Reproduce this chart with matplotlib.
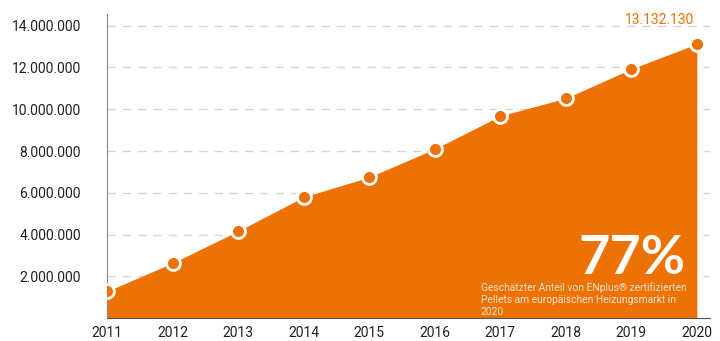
import matplotlib.pyplot as plt
import numpy as np

years = [2011, 2012, 2013, 2014, 2015, 2016, 2017, 2018, 2019, 2020]
tonnes = [1290000, 2640000, 4170000, 5800000, 6750000, 8100000, 9680000, 10530000, 11930000, 13132130]
ytick_vals = [2000000, 4000000, 6000000, 8000000, 10000000, 12000000, 14000000]
note_lines = ['Geschätzter Anteil von ENplus® zertifizierten',
              'Pellets am europäischen Heizungsmarkt in',
              '2020']

orange = '#ee7203'

plt.rcParams['font.family'] = ['Roboto', 'DejaVu Sans']

fig = plt.figure(figsize=(7.2, 3.41), dpi=100)
ax = fig.add_axes([0.149, 0.0674, 0.837, 0.892])

ax.fill_between(years, tonnes, 0, color=orange, linewidth=0, zorder=2)
ax.plot(years, tonnes, 'o', markersize=10, markerfacecolor=orange,
        markeredgecolor='white', markeredgewidth=2, zorder=4)

ax.set_xlim(2011, 2020.2)
ax.set_ylim(0, 14570000)
ax.set_xticks(years)
ax.set_yticks(ytick_vals)
ax.set_yticklabels([f'{v:,}'.replace(',', '.') for v in ytick_vals])
ax.tick_params(axis='y', length=0, pad=19, labelsize=10, labelcolor='#222222')
ax.tick_params(axis='x', length=0, pad=6, labelsize=10, labelcolor='#222222')

ax.grid(axis='y', linestyle=(0, (6, 5)), color='#d6d6d6', linewidth=1, zorder=1)
ax.set_axisbelow(True)
for s in ['top', 'right']:
    ax.spines[s].set_visible(False)
ax.spines['left'].set_color('#888888')
ax.spines['bottom'].set_color('#555555')
ax.spines['bottom'].set_zorder(5)

ax.annotate(f'{tonnes[-1]:,}'.replace(',', '.'), (years[-1], tonnes[-1]),
            xytext=(-27, 12), textcoords='offset points', ha='center', va='bottom',
            color=orange, fontsize=10)

ax.text(0.959, 0.145, '77%', transform=ax.transAxes, ha='right', va='baseline',
        color='white', fontsize=39, fontweight='bold', family=['Lato', 'DejaVu Sans'], zorder=6)

# three lines of the note, placed one under the other
for i, line in enumerate(note_lines):
    ax.text(0.62, 0.100 - i * 0.040, line, transform=ax.transAxes, ha='left', va='center',
            color='#fbe3cf', fontsize=7.4, zorder=6)

fig.savefig('out.png', dpi=100)
